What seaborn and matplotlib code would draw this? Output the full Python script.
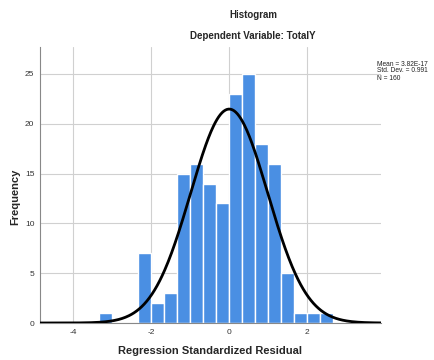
import numpy as np
import pandas as pd
import matplotlib
matplotlib.use("Agg")
import matplotlib.pyplot as plt
import seaborn as sns

# Histogram data (bin width 1/3)
bin_left_edges = [-10/3, -3, -8/3, -7/3, -2, -5/3, -4/3, -1, -2/3, -1/3,
                  0, 1/3, 2/3, 1, 4/3, 5/3, 2, 7/3]
counts = [1, 0, 0, 7, 2, 3, 15, 16, 14, 12, 23, 25, 18, 16, 5, 1, 1, 1]
bin_width = 1/3
mean_val = 3.82e-17
std_val = 0.991
n_val = 160
x_ticks = [-4, -2, 0, 2]
y_ticks = [0, 5, 10, 15, 20, 25]

sns.set_style("white")
plt.rcParams['font.family'] = ['Liberation Sans', 'DejaVu Sans']

fig = plt.figure(figsize=(4.34, 3.6), dpi=100)
ax = fig.add_axes([40/434, 37/360, (381-40)/434, (323-47)/360])

edges = list(bin_left_edges) + [bin_left_edges[-1] + bin_width]
centers = [e + bin_width/2 for e in bin_left_edges]
df = pd.DataFrame({"x": centers, "w": counts})
sns.histplot(data=df, x="x", weights="w", bins=edges, ax=ax,
             color="#4A8FE3", alpha=1, edgecolor="white", linewidth=1.0, zorder=2)

xs = np.linspace(-4.86, 3.9, 400)
ys = n_val * bin_width * np.exp(-0.5 * ((xs - mean_val) / std_val) ** 2) / (std_val * np.sqrt(2 * np.pi))
sns.lineplot(x=xs, y=ys, ax=ax, color="black", linewidth=2.0, zorder=3)

ax.set_xlim(-4.86, 3.9)
ax.set_ylim(0, 27.7)
ax.set_xticks(x_ticks)
ax.set_yticks(y_ticks)
ax.set_xticklabels([str(t) for t in x_ticks], fontsize=6, color="#333333")
ax.set_yticklabels([str(t) for t in y_ticks], fontsize=6, color="#333333")
ax.tick_params(length=0, pad=4)
ax.grid(True, color="#d0d0d0", linewidth=0.8, zorder=0)
ax.set_axisbelow(True)
for s in ["top", "right"]:
    ax.spines[s].set_visible(False)
ax.spines["left"].set_color("#888888")
ax.spines["bottom"].set_color("#888888")
ax.spines["left"].set_linewidth(0.8)

ax.set_xlabel("Regression Standardized Residual", fontsize=8, fontweight="bold")
ax.xaxis.set_label_coords(0.5, (323 - 346) / 276)
ax.set_ylabel("Frequency", fontsize=8, fontweight="bold")
ax.yaxis.set_label_coords((20 - 40) / 341, (323 - 197) / 276)

fig.text(253/434, 1 - 15/360, "Histogram", ha="center", va="center", fontsize=7, fontweight="bold")
fig.text(253/434, 1 - 36/360, "Dependent Variable: TotalY", ha="center", va="center", fontsize=7, fontweight="bold")
fig.text(377/434, 1 - 71/360, "Mean = 3.82E-17\nStd. Dev. = 0.991\nN = 160",
         ha="left", va="center", fontsize=4.8, linespacing=1.0, color="#222222")

fig.savefig("out.png", dpi=100)
